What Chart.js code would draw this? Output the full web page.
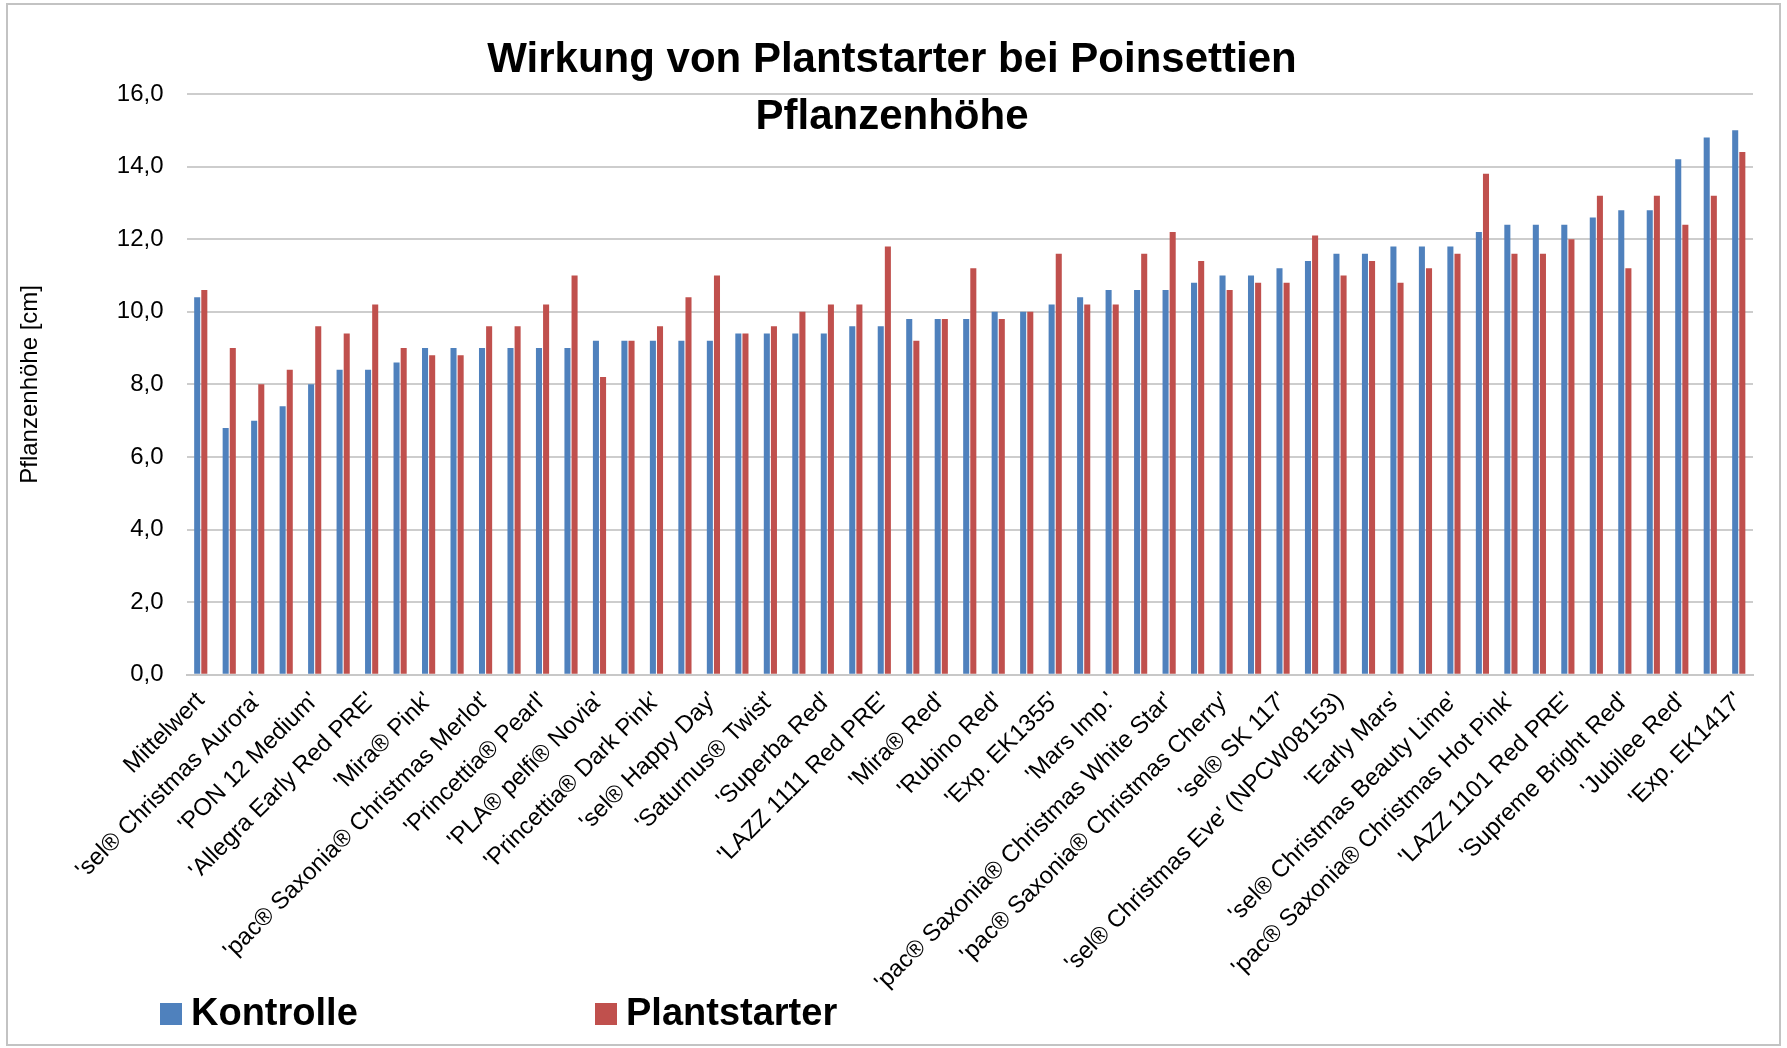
<!DOCTYPE html>
<html>
<head>
<meta charset="utf-8">
<script src="https://cdn.jsdelivr.net/npm/chart.js@4.4.1/dist/chart.umd.min.js"></script>
<style>
  html, body { margin: 0; padding: 0; background: #ffffff; }
  #wrap { position: relative; width: 1787px; height: 1048px; }
</style>
</head>
<body>
<div id="wrap"><canvas id="c" width="1787" height="1048"></canvas></div>
<script>
// ---- Data ----
const categories = [
  "Mittelwert", "",
  "'sel® Christmas Aurora'", "",
  "'PON 12 Medium'", "",
  "'Allegra Early Red PRE'", "",
  "'Mira® Pink'", "",
  "'pac® Saxonia® Christmas Merlot'", "",
  "'Princettia® Pearl'", "",
  "'PLA® pelfi® Novia'", "",
  "'Princettia® Dark Pink'", "",
  "'sel® Happy Day'", "",
  "'Saturnus® Twist'", "",
  "'Superba Red'", "",
  "'LAZZ 1111 Red PRE'", "",
  "'Mira® Red'", "",
  "'Rubino Red'", "",
  "'Exp. EK1355'", "",
  "'Mars Imp.'", "",
  "'pac® Saxonia® Christmas White Star'", "",
  "'pac® Saxonia® Christmas Cherry'", "",
  "'sel® SK 117'", "",
  "'sel® Christmas Eve' (NPCW08153)", "",
  "'Early Mars'", "",
  "'sel® Christmas Beauty Lime'", "",
  "'pac® Saxonia® Christmas Hot Pink'", "",
  "'LAZZ 1101 Red PRE'", "",
  "'Supreme Bright Red'", "",
  "'Jubilee Red'", "",
  "'Exp. EK1417'"
];

const kontrolle = [
  10.4, 6.8, 7.0, 7.4, 8.0, 8.4, 8.4, 8.6, 9.0, 9.0,
  9.0, 9.0, 9.0, 9.0, 9.2, 9.2, 9.2, 9.2, 9.2, 9.4,
  9.4, 9.4, 9.4, 9.6, 9.6, 9.8, 9.8, 9.8, 10.0, 10.0,
  10.2, 10.4, 10.6, 10.6, 10.6, 10.8, 11.0, 11.0, 11.2, 11.4,
  11.6, 11.6, 11.8, 11.8, 11.8, 12.2, 12.4, 12.4, 12.4, 12.6,
  12.8, 12.8, 14.2, 14.8, 15.0
];

const plantstarter = [
  10.6, 9.0, 8.0, 8.4, 9.6, 9.4, 10.2, 9.0, 8.8, 8.8,
  9.6, 9.6, 10.2, 11.0, 8.2, 9.2, 9.6, 10.4, 11.0, 9.4,
  9.6, 10.0, 10.2, 10.2, 11.8, 9.2, 9.8, 11.2, 9.8, 10.0,
  11.6, 10.2, 10.2, 11.6, 12.2, 11.4, 10.6, 10.8, 10.8, 12.1,
  11.0, 11.4, 10.8, 11.2, 11.6, 13.8, 11.6, 11.6, 12.0, 13.2,
  11.2, 13.2, 12.4, 13.2, 14.4
];

const seriesNames = ["Kontrolle", "Plantstarter"];
const titleLines = ["Wirkung von Plantstarter bei Poinsettien", "Pflanzenhöhe"];
const yAxisTitle = "Pflanzenhöhe [cm]";
const yMin = 0, yMax = 16, yStep = 2;

// ---- Styling ----
const FONT = "'Liberation Sans', Arial, sans-serif";
const BLUE = "#4F81BD";
const RED = "#C0504D";

const frameTitleLegend = {
  id: 'frameTitleLegend',
  beforeDraw(chart) {
    const ctx = chart.ctx;
    ctx.save();
    ctx.fillStyle = '#ffffff';
    ctx.fillRect(0, 0, chart.width, chart.height);
    ctx.strokeStyle = '#c3c3c3';
    ctx.lineWidth = 2;
    ctx.strokeRect(7, 4, 1773, 1041);
    ctx.restore();
  },
  afterDraw(chart) {
    const ctx = chart.ctx;
    ctx.save();
    // Title (overlaps the top of the plot area, as in the original)
    ctx.font = "bold 42px " + FONT;
    ctx.fillStyle = '#000000';
    ctx.textAlign = 'center';
    ctx.textBaseline = 'middle';
    titleLines.forEach((line, i) => {
      ctx.fillText(line, 892, 60 + i * 57);
    });
    // Legend
    const xs = [160, 595];
    const cy = 1014;
    ctx.font = "bold 38px " + FONT;
    ctx.textAlign = 'left';
    chart.data.datasets.forEach((ds, i) => {
      ctx.fillStyle = ds.backgroundColor;
      ctx.fillRect(xs[i], cy - 11, 22, 22);
      ctx.fillStyle = '#000000';
      ctx.fillText(ds.label, xs[i] + 31, cy + 1);
    });
    ctx.restore();
  }
};

new Chart(document.getElementById('c'), {
  type: 'bar',
  data: {
    labels: categories,
    datasets: [
      { label: seriesNames[0], data: kontrolle, backgroundColor: BLUE,
        categoryPercentage: 0.5, barPercentage: 0.85 },
      { label: seriesNames[1], data: plantstarter, backgroundColor: RED,
        categoryPercentage: 0.5, barPercentage: 0.85 }
    ]
  },
  options: {
    responsive: false,
    animation: false,
    devicePixelRatio: 1,
    layout: { padding: { left: 7, right: 34, top: 94, bottom: 47 } },
    plugins: {
      legend: { display: false },
      tooltip: { enabled: false },
      title: { display: false }
    },
    scales: {
      x: {
        grid: { display: false },
        border: { display: true, color: '#c8c8c8', width: 2 },
        ticks: {
          autoSkip: false,
          minRotation: 45,
          maxRotation: 45,
          color: '#000000',
          font: { family: FONT, size: 24 },
          padding: 4
        }
      },
      y: {
        min: yMin,
        max: yMax,
        grid: { color: '#cdcdcd', lineWidth: 2, drawTicks: false },
        border: { display: false },
        ticks: {
          stepSize: yStep,
          color: '#000000',
          font: { family: FONT, size: 24 },
          padding: 23,
          callback: (v) => Number(v).toFixed(1).replace('.', ',')
        },
        title: {
          display: true,
          text: yAxisTitle,
          color: '#000000',
          font: { family: FONT, size: 24 },
          padding: { top: 9, bottom: 49 }
        }
      }
    }
  },
  plugins: [frameTitleLegend]
});
</script>
</body>
</html>
